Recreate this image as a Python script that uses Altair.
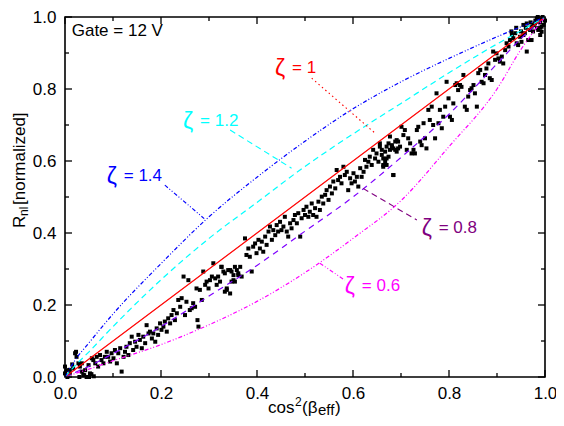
import altair as alt
import pandas as pd

# ---------------- data ----------------
curve_x = [0.0, 0.02, 0.05, 0.1, 0.2, 0.3, 0.4, 0.5, 0.6, 0.7, 0.8, 0.9, 0.95, 1.0]
zeta_06 = [0.0, 0.009, 0.022, 0.045, 0.09, 0.145, 0.21, 0.29, 0.385, 0.49, 0.64, 0.80, 0.91, 1.0]
zeta_08 = [0.0, 0.012, 0.03, 0.065, 0.14, 0.225, 0.31, 0.405, 0.50, 0.61, 0.73, 0.87, 0.94, 1.0]
zeta_10 = [0.0, 0.02, 0.05, 0.1, 0.2, 0.3, 0.4, 0.5, 0.6, 0.7, 0.8, 0.9, 0.95, 1.0]
zeta_12 = [0.0, 0.03, 0.07, 0.14, 0.27, 0.385, 0.485, 0.585, 0.675, 0.76, 0.845, 0.925, 0.962, 1.0]
zeta_14 = [0.0, 0.045, 0.095, 0.175, 0.315, 0.445, 0.555, 0.655, 0.745, 0.82, 0.885, 0.945, 0.973, 1.0]

scatter_x = [
    0.0, 0.005, 0.01, 0.015, 0.023, 0.03, 0.035, 0.04, 0.045, 0.05, 0.055, 0.06,
    0.0, 0.003, 0.010, 0.017, 0.021, 0.024, 0.028, 0.031, 0.035, 0.038, 0.042, 0.049,
    0.052, 0.056, 0.059, 0.063, 0.066, 0.069, 0.073, 0.076, 0.080, 0.083, 0.087, 0.090,
    0.094, 0.097, 0.101, 0.104, 0.108, 0.111, 0.115, 0.118, 0.122, 0.125, 0.128, 0.132,
    0.135, 0.139, 0.142, 0.146, 0.149, 0.153, 0.156, 0.160, 0.163, 0.167, 0.170, 0.174,
    0.177, 0.181, 0.184, 0.188, 0.191, 0.194, 0.198, 0.201, 0.205, 0.208, 0.212, 0.215,
    0.219, 0.222, 0.226, 0.229, 0.233, 0.236, 0.240, 0.243, 0.247, 0.250, 0.253, 0.257,
    0.260, 0.264, 0.267, 0.271, 0.274, 0.276, 0.278, 0.281, 0.285, 0.288, 0.292, 0.295,
    0.299, 0.302, 0.306, 0.309, 0.313, 0.316, 0.319, 0.323, 0.326, 0.330, 0.333, 0.337,
    0.340, 0.344, 0.347, 0.351, 0.354, 0.358, 0.361,
    0.326, 0.333, 0.337, 0.344, 0.347, 0.351, 0.354, 0.361, 0.365, 0.368, 0.375, 0.378,
    0.382, 0.385, 0.389, 0.392, 0.396, 0.399, 0.403, 0.406, 0.410, 0.413, 0.417, 0.420,
    0.424, 0.427, 0.431, 0.434, 0.438, 0.441, 0.444, 0.448, 0.451, 0.455, 0.458, 0.462,
    0.465, 0.469, 0.472, 0.476, 0.479, 0.483, 0.486, 0.490, 0.493, 0.497, 0.500, 0.503,
    0.507, 0.510, 0.514, 0.517, 0.521, 0.524, 0.528, 0.531, 0.535, 0.538, 0.542, 0.545,
    0.549, 0.552, 0.556, 0.559, 0.563, 0.566, 0.569, 0.573, 0.576, 0.580, 0.583, 0.587,
    0.590, 0.594, 0.597, 0.601, 0.604, 0.608, 0.611, 0.615, 0.618, 0.622, 0.625, 0.628,
    0.632, 0.635, 0.639, 0.642, 0.646, 0.649, 0.653, 0.656, 0.660, 0.663, 0.667, 0.670,
    0.674, 0.677, 0.681, 0.684, 0.688, 0.691, 0.694,
    0.656, 0.660, 0.663, 0.667, 0.670, 0.674, 0.663, 0.670, 0.677, 0.681, 0.684, 0.688,
    0.684, 0.691, 0.694, 0.698, 0.701, 0.705, 0.708, 0.712, 0.715, 0.719, 0.722, 0.726,
    0.729, 0.733, 0.736, 0.740, 0.743, 0.747, 0.750, 0.753, 0.757, 0.760, 0.764, 0.767,
    0.771, 0.774, 0.778, 0.781, 0.785, 0.788, 0.792, 0.795, 0.799, 0.802, 0.806, 0.809,
    0.813, 0.816, 0.819, 0.823, 0.826, 0.830, 0.833, 0.837, 0.840, 0.844, 0.847, 0.851,
    0.854, 0.858, 0.861, 0.865, 0.868, 0.872, 0.875, 0.878, 0.882, 0.885, 0.889, 0.892,
    0.896, 0.899, 0.903, 0.906, 0.910, 0.913, 0.917, 0.920, 0.924, 0.927, 0.931, 0.934,
    0.938, 0.941, 0.944, 0.948, 0.951, 0.955, 0.958, 0.962, 0.965, 0.969, 0.972, 0.976,
    0.979, 0.983, 0.986, 0.990, 0.993, 0.997, 0.983, 0.990, 0.955, 0.962, 0.972, 0.993,
    0.986, 0.985, 0.990, 1.0, 0.995, 0.980, 0.970, 0.960, 0.950, 0.940, 0.930, 0.990, 0.975,
]
scatter_y = [
    0.01, 0.0, 0.02, 0.035, 0.07, 0.0, 0.038, 0.005, 0.0, 0.0, 0.008, 0.002,
    0.029, 0.019, 0.010, 0.024, 0.066, 0.056, 0.038, 0.029, 0.015, 0.006, 0.019, 0.033,
    0.010, 0.052, 0.047, 0.038, 0.056, 0.029, 0.061, 0.047, 0.038, 0.056, 0.070, 0.056,
    0.043, 0.066, 0.052, 0.075, 0.038, 0.066, 0.080, 0.015, 0.056, 0.070, 0.084, 0.061,
    0.094, 0.112, 0.075, 0.098, 0.084, 0.117, 0.103, 0.080, 0.112, 0.094, 0.144, 0.121,
    0.126, 0.107, 0.121, 0.098, 0.135, 0.117, 0.149, 0.131, 0.140, 0.154, 0.126, 0.163,
    0.149, 0.172, 0.186, 0.158, 0.177, 0.214, 0.195, 0.219, 0.279, 0.172, 0.209, 0.269,
    0.186, 0.191, 0.205, 0.195, 0.246, 0.158, 0.140, 0.242, 0.214, 0.293, 0.256, 0.265,
    0.246, 0.269, 0.279, 0.316, 0.274, 0.256, 0.279, 0.265, 0.306, 0.293, 0.237, 0.246,
    0.297, 0.232, 0.293, 0.269, 0.265, 0.297, 0.283,
    0.306, 0.288, 0.242, 0.297, 0.265, 0.283, 0.306, 0.288, 0.306, 0.279, 0.385, 0.339,
    0.357, 0.334, 0.293, 0.362, 0.371, 0.344, 0.381, 0.357, 0.376, 0.348, 0.390, 0.367,
    0.404, 0.418, 0.381, 0.408, 0.394, 0.422, 0.404, 0.431, 0.408, 0.418, 0.445, 0.404,
    0.390, 0.427, 0.413, 0.436, 0.450, 0.427, 0.455, 0.390, 0.441, 0.464, 0.450, 0.473,
    0.445, 0.459, 0.482, 0.450, 0.469, 0.445, 0.487, 0.464, 0.501, 0.482, 0.506, 0.519,
    0.492, 0.529, 0.510, 0.543, 0.524, 0.575, 0.547, 0.556, 0.538, 0.584, 0.561, 0.570,
    0.519, 0.552, 0.538, 0.566, 0.543, 0.556, 0.529, 0.580, 0.556, 0.570, 0.603, 0.584,
    0.598, 0.612, 0.589, 0.631, 0.607, 0.621, 0.598, 0.640, 0.617, 0.589, 0.626, 0.607,
    0.649, 0.631, 0.640, 0.561, 0.654, 0.626, 0.635,
    0.649, 0.631, 0.607, 0.598, 0.589, 0.612, 0.584, 0.640, 0.668, 0.644, 0.635, 0.631,
    0.561, 0.658, 0.654, 0.640, 0.695, 0.672, 0.686, 0.631, 0.663, 0.649, 0.621, 0.631,
    0.621, 0.686, 0.695, 0.654, 0.644, 0.705, 0.663, 0.635, 0.742, 0.714, 0.751, 0.700,
    0.663, 0.788, 0.705, 0.742, 0.691, 0.723, 0.751, 0.820, 0.774, 0.723, 0.714, 0.760,
    0.811, 0.816, 0.797, 0.811, 0.806, 0.839, 0.751, 0.742, 0.779, 0.797, 0.802, 0.811,
    0.788, 0.751, 0.844, 0.853, 0.820, 0.816, 0.839, 0.857, 0.871, 0.830, 0.825, 0.904,
    0.881, 0.899, 0.885, 0.876, 0.890, 0.871, 0.908, 0.927, 0.918, 0.936, 0.950, 0.941,
    0.955, 0.927, 0.922, 0.945, 0.931, 0.950, 0.955, 0.904, 0.936, 0.964, 0.973, 0.978,
    0.982, 0.969, 0.987, 0.992, 0.959, 0.978, 0.996, 0.950, 0.978, 0.982, 0.936, 0.973,
    0.964, 1.0, 0.985, 0.99, 1.0, 0.99, 0.985, 0.97, 0.96, 0.97, 0.96, 0.97, 0.96,
]

zeta_names = ["1", "1.2", "1.4", "0.8", "0.6"]
label_x = [0.4375, 0.246, 0.087, 0.743, 0.583]
label_y = [0.858, 0.71, 0.558, 0.415, 0.253]
leader_x1 = [0.514, 0.344, 0.208, 0.621, 0.531]
leader_y1 = [0.830, 0.686, 0.533, 0.524, 0.316]
leader_x2 = [0.648, 0.472, 0.290, 0.733, 0.583]
leader_y2 = [0.675, 0.580, 0.440, 0.436, 0.269]

major_ticks = [0.0, 0.2, 0.4, 0.6, 0.8, 1.0]
minor_ticks = [0.1, 0.3, 0.5, 0.7, 0.9]

# ---------------- styles ----------------
W, H = 480, 360
FONT = "Liberation Sans"
curve_styles = {
    "0.6": dict(color="#ff00ff", dash=[4, 2, 1, 2, 1, 2]),
    "0.8": dict(color="#7f00ff", dash=[6, 5]),
    "1": dict(color="#ff0000", dash=[1, 0]),
    "1.2": dict(color="#00ffff", dash=[6, 4]),
    "1.4": dict(color="#0000ff", dash=[4, 2, 1, 2, 1, 2]),
}
label_styles = {
    "1": dict(color="#ff0000", dash=[1.5, 3]),
    "1.2": dict(color="#00ffff", dash=[6, 4]),
    "1.4": dict(color="#0000ff", dash=[4, 2, 1, 2, 1, 2]),
    "0.8": dict(color="#800080", dash=[6, 4]),
    "0.6": dict(color="#ff00ff", dash=[4, 2, 1, 2, 1, 2]),
}
curve_series = {"0.6": zeta_06, "0.8": zeta_08, "1": zeta_10, "1.2": zeta_12, "1.4": zeta_14}

xs = alt.Scale(domain=[0, 1], nice=False, zero=False)
ys = alt.Scale(domain=[0, 1], nice=False, zero=False)
xa = alt.Axis(values=major_ticks, format=".1f", ticks=False, tickSize=0, domain=False,
              grid=False, labelPadding=8, labelFlush=False, labelOverlap=False, title=None)
ya = alt.Axis(values=major_ticks, format=".1f", ticks=False, tickSize=0, domain=False,
              grid=False, labelPadding=9, labelFlush=False, labelOverlap=False, title=None)


def X(f):
    return alt.X(f, scale=xs, axis=xa)


def Y(f):
    return alt.Y(f, scale=ys, axis=ya)


layers = []

# scatter
sc = pd.DataFrame({"x": scatter_x, "y": scatter_y})
layers.append(
    alt.Chart(sc).mark_square(size=16, color="black", opacity=1).encode(
        x=X("x:Q"), y=Y("y:Q"))
)

# curves
for name, vals in curve_series.items():
    st = curve_styles[name]
    df = pd.DataFrame({"x": curve_x, "y": vals})
    layers.append(
        alt.Chart(df).mark_line(color=st["color"], strokeWidth=1.2, strokeDash=st["dash"],
                                interpolate="monotone").encode(x=X("x:Q"), y=Y("y:Q"))
    )

# labels and leaders
for i, name in enumerate(zeta_names):
    st = label_styles[name]
    ld = pd.DataFrame({"x": [leader_x1[i]], "y": [leader_y1[i]],
                       "x2": [leader_x2[i]], "y2": [leader_y2[i]]})
    layers.append(
        alt.Chart(ld).mark_rule(color=st["color"], strokeWidth=1.1, strokeDash=st["dash"]).encode(
            x=X("x:Q"), y=Y("y:Q"), x2="x2:Q", y2="y2:Q")
    )
    lb = pd.DataFrame({"x": [label_x[i]], "y": [label_y[i]], "t": ["= " + name]})
    layers.append(
        alt.Chart(lb).mark_text(text="ζ", font=FONT, fontSize=23, color=st["color"],
                                align="left", baseline="middle", dy=1).encode(
            x=X("x:Q"), y=Y("y:Q"))
    )
    layers.append(
        alt.Chart(lb).mark_text(font=FONT, fontSize=17, color=st["color"],
                                align="left", baseline="middle", dx=17).encode(
            x=X("x:Q"), y=Y("y:Q"), text="t:N")
    )

# Gate label
gate = pd.DataFrame({"x": [0.014], "y": [0.96], "t": ["Gate = 12 V"]})
layers.append(
    alt.Chart(gate).mark_text(font=FONT, fontSize=17, color="black", align="left",
                              baseline="middle").encode(x=X("x:Q"), y=Y("y:Q"), text="t:N")
)

# inward ticks on all four sides
for vals, ln in ((major_ticks, 7), (minor_ticks, 4)):
    tdf = pd.DataFrame({"x": vals, "y": vals})
    layers.append(alt.Chart(tdf).mark_rule(color="black", strokeWidth=1.3).encode(
        x=X("x:Q"), y=alt.value(H), y2=alt.value(H - ln)))
    layers.append(alt.Chart(tdf).mark_rule(color="black", strokeWidth=1.3).encode(
        x=X("x:Q"), y=alt.value(0), y2=alt.value(ln)))
    layers.append(alt.Chart(tdf).mark_rule(color="black", strokeWidth=1.3).encode(
        y=Y("y:Q"), x=alt.value(0), x2=alt.value(ln)))
    layers.append(alt.Chart(tdf).mark_rule(color="black", strokeWidth=1.3).encode(
        y=Y("y:Q"), x=alt.value(W), x2=alt.value(W - ln)))


# axis titles composed with sub/superscripts
def ptext(txt, px, py, size, angle=0):
    return alt.Chart(alt.Data(values=[{"k": 0}])).mark_text(
        text=txt, font=FONT, fontSize=size, color="black", align="left",
        baseline="alphabetic", angle=angle).encode(x=alt.value(px), y=alt.value(py))


layers += [
    ptext("cos", 203, 396, 17),
    ptext("2", 230, 389, 12),
    ptext("(β", 237, 396, 17),
    ptext("eff", 253, 398, 15),
    ptext(")", 270, 396, 17),
    ptext("R", -40, 211, 17, 270),
    ptext("nl", -37, 199, 12, 270),
    ptext("[normalized]", -40, 188, 17, 270),
]

chart = alt.layer(*layers).properties(
    width=W, height=H,
    padding={"left": 57, "top": 9, "right": 11, "bottom": 41},
    autosize=alt.AutoSizeParams(type="none"),
    background="white",
).configure_view(stroke="black", strokeWidth=1.6).configure_axis(
    labelFont=FONT, labelFontSize=17, labelColor="black")

chart.save("out.html", embed_options={"renderer": "svg", "actions": False})
